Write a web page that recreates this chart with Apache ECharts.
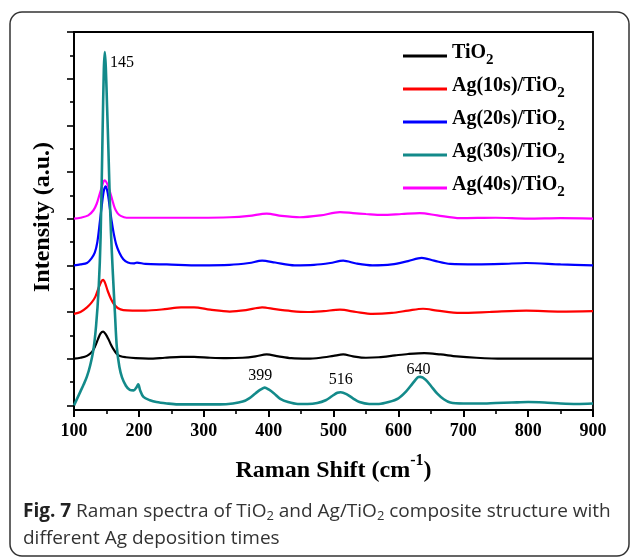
<!DOCTYPE html>
<html>
<head>
<meta charset="utf-8">
<script src="https://cdn.jsdelivr.net/npm/echarts@6.0.0/dist/echarts.min.js"></script>
<style>
  html, body { margin: 0; padding: 0; background: #fff; }
  #chart { width: 630px; height: 557px; }
</style>
</head>
<body>
<div id="chart"></div>
<script>
// Raman spectra, [shift (cm-1), intensity (a.u., stacked offset)]
const seriesNames = ['TiO2', 'Ag(10s)/TiO2', 'Ag(20s)/TiO2', 'Ag(30s)/TiO2', 'Ag(40s)/TiO2'];
const seriesColors = ['#000000', '#ff0000', '#0000ff', '#138a8a', '#ff00ff'];

const tio2 = [[100,1.0],[110,1.02],[120,1.06],[128,1.15],[133,1.28],[137,1.42],[141,1.54],[145,1.58],[149,1.52],[153,1.42],[157,1.3],[161,1.2],[166,1.1],[172,1.05],[180,1.03],[195,1.01],[215,1.0],[240,1.02],[265,1.04],[285,1.04],[310,1.02],[335,1.01],[360,1.02],[380,1.05],[397,1.09],[415,1.05],[435,1.01],[460,1.0],[480,1.02],[500,1.06],[515,1.09],[530,1.05],[550,1.02],[570,1.03],[595,1.07],[615,1.1],[640,1.12],[665,1.09],[690,1.05],[720,1.02],[760,1.0],[800,1.0],[850,1.0],[900,1.0]];

const ag10 = [[100,1.96],[110,2.0],[120,2.1],[127,2.2],[133,2.33],[138,2.52],[142,2.65],[145,2.69],[148,2.62],[152,2.45],[157,2.28],[162,2.16],[168,2.08],[176,2.04],[190,2.03],[210,2.03],[240,2.06],[265,2.1],[285,2.1],[310,2.05],[340,2.01],[365,2.04],[390,2.1],[410,2.06],[435,2.02],[460,2.0],[485,2.02],[510,2.05],[535,2.0],[560,1.96],[590,1.98],[615,2.03],[638,2.07],[660,2.03],[695,1.98],[740,2.0],[797,2.03],[850,2.01],[900,2.02]];

const ag20 = [[100,3.0],[110,3.02],[120,3.05],[127,3.15],[132,3.27],[136,3.5],[140,3.95],[143,4.3],[146,4.6],[149,4.69],[152,4.55],[155,4.25],[158,3.95],[161,3.7],[165,3.45],[170,3.27],[176,3.13],[183,3.06],[192,3.04],[197,3.06],[210,3.03],[243,3.02],[294,3.0],[340,3.01],[370,3.05],[390,3.1],[410,3.06],[440,3.0],[470,3.01],[495,3.05],[515,3.1],[535,3.04],[560,3.0],[590,3.02],[615,3.09],[636,3.16],[655,3.1],[680,3.03],[720,3.02],[760,3.03],[797,3.05],[850,3.02],[900,3.0]];

const ag30 = [[100,0.0],[105,0.15],[110,0.3],[115,0.45],[120,0.62],[125,0.86],[130,1.2],[134,1.7],[138,2.5],[141,3.6],[144,5.8],[146,7.2],[147.5,7.57],[149,7.25],[151,6.4],[153,5.5],[155,4.5],[157,3.7],[160,2.8],[163,2.0],[166,1.25],[170,0.82],[174,0.6],[180,0.42],[186,0.33],[192,0.32],[196,0.38],[199,0.45],[202,0.32],[207,0.18],[217,0.11],[227,0.07],[243,0.04],[260,0.02],[300,0.02],[325,0.02],[345,0.04],[360,0.08],[370,0.15],[380,0.26],[388,0.34],[394,0.38],[400,0.34],[408,0.26],[418,0.14],[430,0.07],[445,0.03],[460,0.03],[475,0.05],[488,0.11],[498,0.2],[506,0.27],[511,0.28],[520,0.24],[530,0.15],[540,0.07],[555,0.03],[570,0.03],[585,0.07],[600,0.15],[612,0.3],[622,0.47],[630,0.6],[634,0.61],[642,0.55],[650,0.42],[660,0.25],[670,0.13],[680,0.06],[700,0.04],[725,0.04],[750,0.05],[775,0.06],[800,0.07],[825,0.06],[850,0.04],[875,0.03],[900,0.04]];

const ag40 = [[100,4.0],[110,4.02],[122,4.07],[130,4.18],[135,4.32],[139,4.5],[142,4.64],[145,4.78],[147,4.82],[150,4.78],[153,4.68],[156,4.55],[159,4.4],[163,4.22],[167,4.12],[172,4.06],[181,4.02],[200,4.02],[250,4.02],[294,4.02],[340,4.03],[370,4.06],[397,4.11],[420,4.06],[448,4.03],[480,4.07],[510,4.14],[530,4.12],[550,4.1],[575,4.08],[605,4.1],[633,4.12],[660,4.07],[695,4.01],[750,4.02],[800,4.0],[850,4.01],[900,4.0]];

const spectra = [tio2, ag10, ag20, ag30, ag40];

// peak annotations on the Ag(30s) curve
const peakLabels = ['145', '399', '516', '640'];

const yMajorTicks = [0, 1, 2, 3, 4, 5, 6, 7, 8];
const yMinorTicks = [0.5, 1.5, 2.5, 3.5, 4.5, 5.5, 6.5, 7.5];

const serif = 'Liberation Serif, Times New Roman, serif';
const sans = 'Open Sans, Noto Sans, sans-serif';

const chart = echarts.init(document.getElementById('chart'), null, { renderer: 'canvas' });

// where the peak numbers sit (data coords)
const peakLabelAt = [[174, 7.35], [387, 0.64], [511, 0.54], [631, 0.77]];

const series = spectra.map((d, i) => ({
  name: seriesNames[i],
  type: 'line',
  data: d,
  symbol: 'none',
  smooth: 0.3,
  z: i === 3 ? 5 : 2,
  lineStyle: { color: seriesColors[i], width: i === 3 ? 2.6 : 2.2 },
  itemStyle: { color: seriesColors[i] },
  animation: false
}));

series[3].markPoint = {
  symbol: 'circle',
  symbolSize: 0,
  silent: true,
  label: {
    show: true,
    position: 'inside',
    formatter: p => p.name,
    color: '#000',
    fontFamily: serif,
    fontSize: 16
  },
  data: peakLabels.map((t, k) => ({ name: t, coord: peakLabelAt[k] }))
};

const sub = (name) => '{a|' + name.slice(0, -1) + '}{s|2}';

chart.setOption({
  backgroundColor: '#fff',
  animation: false,
  grid: {
    left: 74, right: 37, top: 32, bottom: 147,
    show: true, borderColor: '#000', borderWidth: 1.8,
    outerBoundsMode: 'none'
  },
  legend: {
    show: true,
    data: seriesNames,
    orient: 'vertical',
    left: 398,
    top: 38,
    icon: 'rect',
    itemWidth: 44,
    itemHeight: 3,
    itemGap: 8,
    selectedMode: false,
    formatter: sub,
    textStyle: {
      color: '#000',
      rich: {
        a: { fontFamily: serif, fontSize: 20, fontWeight: 'bold', color: '#000', lineHeight: 26, verticalAlign: 'top' },
        s: { fontFamily: serif, fontSize: 15, fontWeight: 'bold', color: '#000', lineHeight: 18, verticalAlign: 'top', padding: [10, 0, 0, 0] }
      }
    }
  },
  xAxis: {
    type: 'value',
    min: 100, max: 900, interval: 100,
    name: '{a|Raman Shift (cm}{b|-1}{a|)}',
    nameLocation: 'middle',
    nameGap: 43,
    nameTextStyle: {
      rich: {
        a: { fontFamily: serif, fontSize: 24, fontWeight: 'bold', color: '#000', lineHeight: 30, verticalAlign: 'bottom' },
        b: { fontFamily: serif, fontSize: 16, fontWeight: 'bold', color: '#000', lineHeight: 30, verticalAlign: 'top' }
      }
    },
    axisLine: { onZero: false, lineStyle: { color: '#000', width: 2 } },
    axisTick: { inside: false, length: 7, lineStyle: { color: '#000', width: 2 } },
    minorTick: { show: true, splitNumber: 2, length: 4, lineStyle: { color: '#000', width: 1.6 } },
    axisLabel: { margin: 12, color: '#000', fontFamily: serif, fontSize: 18, fontWeight: 'bold' },
    splitLine: { show: false }
  },
  yAxis: [{
    type: 'value',
    min: -0.1, max: 8,
    name: 'Intensity (a.u.)',
    nameLocation: 'middle',
    nameGap: 19,
    nameTextStyle: { fontFamily: serif, fontSize: 24, fontWeight: 'bold', color: '#000', padding: [0, 0, 0, 8] },
    axisLine: { onZero: false, lineStyle: { color: '#000', width: 2 } },
    axisTick: { inside: false, length: 7, customValues: yMajorTicks, lineStyle: { color: '#000', width: 1.6 } },
    axisLabel: { show: false },
    splitLine: { show: false }
  }, {
    type: 'value',
    position: 'left',
    min: -0.1, max: 8,
    axisLine: { show: false },
    axisTick: { inside: false, length: 4, customValues: yMinorTicks, lineStyle: { color: '#000', width: 1.6 } },
    axisLabel: { show: false },
    splitLine: { show: false }
  }],
  series: series,
  graphic: [
    {
      type: 'rect',
      shape: { x: 10, y: 12, width: 619, height: 544, r: 12 },
      style: { fill: null, stroke: '#333', lineWidth: 1.5 },
      silent: true, z: -1
    },
    {
      type: 'text',
      left: 23,
      top: 498,
      style: {
        text: '{b|Fig. 7} Raman spectra of TiO{s|2} and Ag/TiO{s|2} composite structure with\ndifferent Ag deposition times',
        fontFamily: sans,
        fontSize: 19,
        lineHeight: 27,
        fill: '#333',
        rich: {
          b: { fontFamily: sans, fontSize: 19, fontWeight: 'bold', fill: '#222', lineHeight: 27 },
          s: { fontFamily: sans, fontSize: 13, fill: '#333', lineHeight: 27, padding: [9, 0, 0, 0] }
        }
      }
    }
  ]
});
</script>
</body>
</html>
